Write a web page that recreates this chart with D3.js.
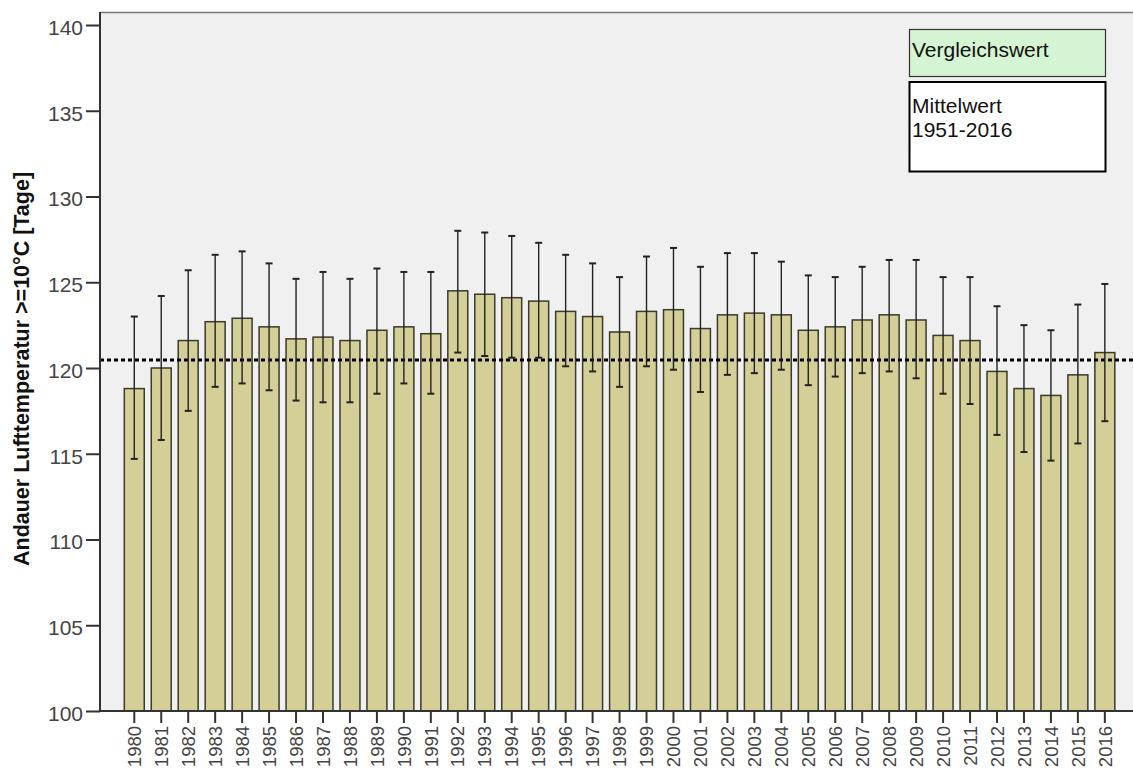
<!DOCTYPE html>
<html>
<head>
<meta charset="utf-8">
<script src="https://cdn.jsdelivr.net/npm/d3@7"></script>
<style>
  html, body { margin: 0; padding: 0; background: #fff; }
  svg { display: block; font-family: "Liberation Sans", Arial, sans-serif; }
</style>
</head>
<body>
<svg id="chart" width="1133" height="771"></svg>
<script>
// Jahre 1980–2016: Mittelwert der Andauer (Tage) mit oberer/unterer Fehlergrenze
const years = d3.range(1980, 2017).map(String);
const means = [118.8, 120.0, 121.6, 122.7, 122.9, 122.4, 121.7, 121.8, 121.6, 122.2, 122.4, 122.0,
               124.5, 124.3, 124.1, 123.9, 123.3, 123.0, 122.1, 123.3, 123.4, 122.3, 123.1, 123.2,
               123.1, 122.2, 122.4, 122.8, 123.1, 122.8, 121.9, 121.6, 119.8, 118.8, 118.4, 119.6, 120.9];
const upper = [123.0, 124.2, 125.7, 126.6, 126.8, 126.1, 125.2, 125.6, 125.2, 125.8, 125.6, 125.6,
               128.0, 127.9, 127.7, 127.3, 126.6, 126.1, 125.3, 126.5, 127.0, 125.9, 126.7, 126.7,
               126.2, 125.4, 125.3, 125.9, 126.3, 126.3, 125.3, 125.3, 123.6, 122.5, 122.2, 123.7, 124.9];
const lower = [114.7, 115.8, 117.5, 118.9, 119.1, 118.7, 118.1, 118.0, 118.0, 118.5, 119.1, 118.5,
               120.9, 120.7, 120.6, 120.6, 120.1, 119.8, 118.9, 120.1, 119.9, 118.6, 119.6, 119.7,
               119.9, 119.0, 119.5, 119.7, 119.8, 119.4, 118.5, 117.9, 116.1, 115.1, 114.6, 115.6, 116.9];
const referenceValue = 120.47;           // Mittelwert 1951-2016
const yTicks = [100, 105, 110, 115, 120, 125, 130, 135, 140];
const legendLabels = ["Vergleichswert", ["Mittelwert", "1951-2016"]];
const yTitle = "Andauer Lufttemperatur >=10°C [Tage]";

const data = years.map((y, i) => ({ year: y, mean: means[i], hi: upper[i], lo: lower[i] }));

const svg = d3.select("#chart");
const plot = { left: 100, right: 1133, top: 12, bottom: 711 };

const x = d3.scaleBand()
  .domain(years)
  .range([120.8, 120.8 + 26.96 * years.length])
  .paddingInner(0.26)
  .paddingOuter(0.13);

const y = d3.scaleLinear().domain([100, 140]).range([plot.bottom, 25]);

// Plot background
svg.append("rect")
  .attr("x", plot.left).attr("y", plot.top)
  .attr("width", plot.right - plot.left).attr("height", plot.bottom - plot.top)
  .attr("fill", "#f0f0f0");

// Top frame line
svg.append("line")
  .attr("x1", plot.left).attr("x2", plot.right)
  .attr("y1", plot.top + 0.5).attr("y2", plot.top + 0.5)
  .attr("stroke", "#777").attr("stroke-width", 1.5);

// Bars
svg.append("g").selectAll("rect")
  .data(data)
  .join("rect")
  .attr("x", d => x(d.year))
  .attr("y", d => y(d.mean))
  .attr("width", x.bandwidth())
  .attr("height", d => y(100) - y(d.mean))
  .attr("fill", "#d4cf97")
  .attr("stroke", "#3b3a2c")
  .attr("stroke-width", 1.5);

// Reference line (mean 1951-2016)
svg.append("line")
  .attr("x1", plot.left).attr("x2", plot.right)
  .attr("y1", y(referenceValue)).attr("y2", y(referenceValue))
  .attr("stroke", "#000").attr("stroke-width", 3)
  .attr("stroke-dasharray", "4,3");

// Error bars
const eb = svg.append("g").attr("stroke", "#222").attr("stroke-width", 1.4);
data.forEach(d => {
  const cx = x(d.year) + x.bandwidth() / 2;
  eb.append("line").attr("x1", cx).attr("x2", cx).attr("y1", y(d.hi)).attr("y2", y(d.lo));
  eb.append("line").attr("x1", cx - 3.5).attr("x2", cx + 3.5).attr("y1", y(d.hi)).attr("y2", y(d.hi)).attr("stroke-width", 2);
  eb.append("line").attr("x1", cx - 3.5).attr("x2", cx + 3.5).attr("y1", y(d.lo)).attr("y2", y(d.lo)).attr("stroke-width", 2);
});

// Y axis
const yAxis = svg.append("g")
  .attr("transform", `translate(${plot.left},0)`)
  .call(d3.axisLeft(y).tickValues(yTicks).tickSize(14).tickPadding(3).tickFormat(d3.format("d")));
yAxis.select(".domain").attr("d", `M0,${plot.top}V${plot.bottom}`).attr("stroke", "#333").attr("stroke-width", 2);
yAxis.selectAll(".tick line").attr("stroke", "#333").attr("stroke-width", 2);
yAxis.selectAll(".tick text")
  .attr("font-size", 21).attr("fill", "#444")
  .attr("font-family", "'Liberation Sans', Arial, sans-serif")
  .attr("dy", "0.45em");

// X axis
const xAxis = svg.append("g")
  .attr("transform", `translate(0,${plot.bottom})`)
  .call(d3.axisBottom(x).tickSize(12).tickPadding(4));
xAxis.select(".domain").attr("d", `M${plot.left},0H${plot.right}`).attr("stroke", "#333").attr("stroke-width", 2);
xAxis.selectAll(".tick line").attr("stroke", "#333").attr("stroke-width", 2);
xAxis.selectAll(".tick text")
  .attr("font-size", 18.5).attr("fill", "#444")
  .attr("font-family", "'Liberation Sans', Arial, sans-serif")
  .attr("transform", "rotate(-90)")
  .attr("text-anchor", "end")
  .attr("dy", "0.36em")
  .attr("x", -15)
  .attr("y", 0);

// Y axis title
svg.append("text")
  .attr("transform", `translate(29,369) rotate(-90)`)
  .attr("text-anchor", "middle")
  .attr("font-size", 21.5).attr("font-weight", "bold").attr("fill", "#111")
  .text(yTitle);

// Legend boxes
const lg = svg.append("g");
lg.append("rect")
  .attr("x", 909.5).attr("y", 29.5).attr("width", 196).attr("height", 47)
  .attr("fill", "#d4f4d4").attr("stroke", "#333").attr("stroke-width", 1.2);
lg.append("text")
  .attr("x", 912).attr("y", 57).attr("font-size", 21).attr("fill", "#111")
  .text(legendLabels[0]);
lg.append("rect")
  .attr("x", 909.5).attr("y", 82).attr("width", 196).attr("height", 89.5)
  .attr("fill", "#fff").attr("stroke", "#000").attr("stroke-width", 2);
lg.append("text")
  .attr("font-size", 21).attr("fill", "#111")
  .selectAll("tspan")
  .data(legendLabels[1])
  .join("tspan")
  .attr("x", 912)
  .attr("y", (d, i) => 112.5 + i * 24.4)
  .text(d => d);
</script>
</body>
</html>
